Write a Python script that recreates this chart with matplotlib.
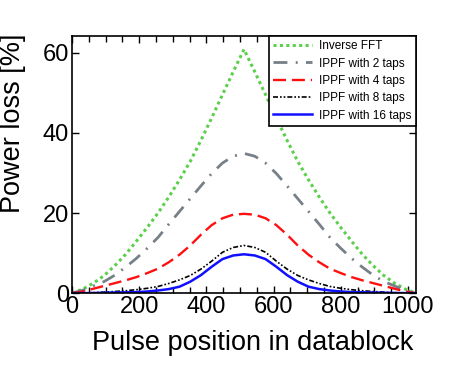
import numpy as np
import matplotlib
matplotlib.use("Agg")
import matplotlib.pyplot as plt
from matplotlib.ticker import MultipleLocator

plt.rcParams['font.family'] = ['Liberation Sans', 'DejaVu Sans']

# pulse position (samples in a 1024 block)
pos = [0, 32, 64, 96, 128, 160, 192, 224, 256, 288, 320, 352, 384, 416, 448, 480, 512,
       544, 576, 608, 640, 672, 704, 736, 768, 800, 832, 864, 896, 928, 960, 992, 1024]

inv_fft = [0, 1.0, 2.5, 4.4, 6.9, 9.7, 13.0, 16.4, 20.0, 24.0, 28.3, 32.9, 38.2, 43.8, 49.6, 55.3, 60.9,
           55.3, 49.6, 43.8, 38.2, 32.9, 28.3, 24.0, 20.0, 16.4, 13.0, 9.7, 6.9, 4.4, 2.5, 1.0, 0]
ippf2 = [0, 0.7, 1.8, 2.9, 4.5, 6.5, 8.7, 11.2, 13.9, 17.2, 20.4, 23.6, 26.8, 29.9, 32.5, 34.2, 34.9,
         34.2, 32.5, 29.9, 26.8, 23.6, 20.4, 17.2, 13.9, 11.2, 8.7, 6.5, 4.5, 2.9, 1.8, 0.7, 0]
ippf4 = [0, 0.4, 1.1, 1.8, 2.5, 3.2, 4.0, 5.0, 6.1, 7.7, 9.6, 11.9, 14.6, 17.0, 18.7, 19.6, 19.8,
         19.6, 18.7, 17.0, 14.6, 11.9, 9.6, 7.7, 6.1, 5.0, 4.0, 3.2, 2.5, 1.8, 1.1, 0.4, 0]
ippf8 = [0, 0.02, 0.1, 0.25, 0.4, 0.6, 0.85, 1.2, 1.65, 2.4, 3.3, 4.4, 6.0, 8.0, 10.2, 11.4, 11.9,
         11.4, 10.2, 8.0, 6.0, 4.4, 3.3, 2.4, 1.65, 1.2, 0.85, 0.6, 0.4, 0.25, 0.1, 0.02, 0]
ippf16 = [0, 0.0, 0.03, 0.08, 0.15, 0.2, 0.25, 0.4, 0.65, 1.0, 1.6, 2.85, 4.5, 6.6, 8.5, 9.4, 9.7,
          9.4, 8.5, 6.6, 4.5, 2.85, 1.6, 1.0, 0.65, 0.4, 0.25, 0.2, 0.15, 0.08, 0.03, 0.0, 0]

fig = plt.figure(figsize=(4.63, 3.65), dpi=100)
ax = fig.add_axes([0.1555, 0.197, 0.743, 0.704])

ax.plot(pos, inv_fft, color='#5ccf4c', lw=2.2, dashes=(1, 1.1), label='Inverse FFT')
ax.plot(pos, ippf2, color='#778088', lw=2.0, dashes=(5, 3, 0.7, 3), label='IPPF with 2 taps')
ax.plot(pos, ippf4, color='#ff1010', lw=1.7, dashes=(5.5, 2.5), label='IPPF with 4 taps')
ax.plot(pos, ippf8, color='black', lw=1.2, dashes=(3, 1.2, 1, 1.2, 1, 1.2), label='IPPF with 8 taps')
ax.plot(pos, ippf16, color='#1010ff', lw=1.8, label='IPPF with 16 taps')

ax.set_xlim(0, 1024)
ax.set_ylim(0, 64.2)
ax.xaxis.set_major_locator(MultipleLocator(200))
ax.xaxis.set_minor_locator(MultipleLocator(50))
ax.yaxis.set_major_locator(MultipleLocator(20))
ax.tick_params(which='both', direction='in', top=True, right=True, labelsize=17, pad=2)
ax.tick_params(which='major', length=5, width=1)
ax.tick_params(which='minor', length=4, width=1)
for s in ax.spines.values():
    s.set_linewidth(1.2)

ax.set_xlabel('Pulse position in datablock', fontsize=19.5)
ax.set_ylabel('Power loss [%]', fontsize=19.5)
ax.xaxis.set_label_coords(0.526, -0.142)
ax.yaxis.set_label_coords(-0.133, 0.66)

leg = ax.legend(loc='upper right', fontsize=8.5, frameon=True, fancybox=False,
                borderaxespad=0, handlelength=3.3, edgecolor='black',
                framealpha=1, borderpad=0.35, labelspacing=0.45, handletextpad=0.6)
leg.get_frame().set_linewidth(1.2)

fig.savefig('out.png', dpi=100)
